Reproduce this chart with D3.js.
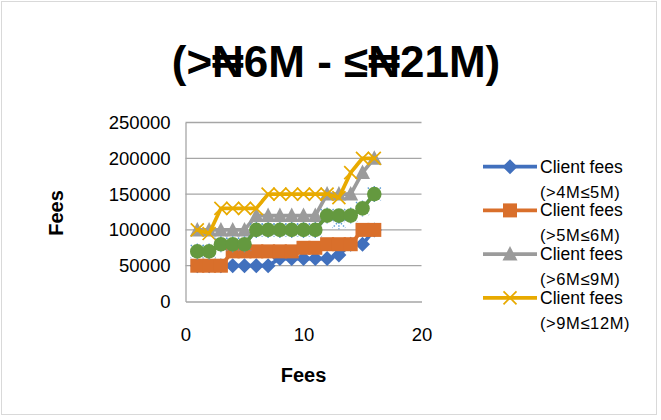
<!DOCTYPE html>
<html><head><meta charset="utf-8">
<script src="https://cdn.jsdelivr.net/npm/d3@7"></script>
<style>body{margin:0;background:#fff}svg{display:block}text{font-family:"Liberation Sans",Arial,sans-serif}</style>
</head><body><svg id="c" width="661" height="420"></svg>
<script>
const xValues = [1,2,3,4,5,6,7,8,9,10,11,12,13,14,15,16];
const seriesNames = ["Client fees (>4M≤5M)","Client fees (>5M≤6M)","Client fees (>6M≤9M)","Client fees (>9M≤12M)","Client fees (>12M≤15M)","Client fees (>15M≤21M)"];
const s1 = [50000,50000,50000,50000,50000,50000,50000,60000,60000,60000,60000,60000,65000,80000,80000,100000];
const s2 = [50000,50000,50000,70000,70000,70000,70000,70000,70000,75000,75000,80000,80000,80000,100000,100000];
const s3 = [100000,100000,100000,100000,100000,120000,120000,120000,120000,120000,120000,150000,150000,150000,180000,200000];
const s4 = [100000,95000,130000,130000,130000,130000,150000,150000,150000,150000,150000,150000,145000,180000,200000,200000];
const s5 = [70000,70000,80000,80000,80000,100000,100000,100000,100000,100000,100000,120000,112000,120000,130000,150000];
const s6 = [70000,70000,80000,80000,80000,100000,100000,100000,100000,100000,100000,120000,120000,120000,130000,150000];
const yTicks = [0,50000,100000,150000,200000,250000];
const xTicks = [0,10,20];
const legendLines = [["Client fees","(>4M≤5M)"],["Client fees","(>5M≤6M)"],["Client fees","(>6M≤9M)"],["Client fees","(>9M≤12M)"]];
const colors = ["#4170BD","#D96F2B","#9B9B9B","#E8AA00","#5B9BD5","#64993F"];
const markers = ["diamond","square","triangle","cross","star","circle"];
const allSeries = [s1,s2,s3,s4,s5,s6];

const svg = d3.select("#c");
svg.append("rect").attr("x",1.5).attr("y",1.5).attr("width",655).attr("height",413).attr("fill","#fff").attr("stroke","#d9d9d9");

const x = d3.scaleLinear().domain([0,20]).range([185.5,421.5]);
const y = d3.scaleLinear().domain([0,250000]).range([301.5,122.5]);

svg.append("g").selectAll("line").data(yTicks.slice(1)).join("line")
  .attr("x1",x(0)).attr("x2",x(20)).attr("y1",d=>y(d)).attr("y2",d=>y(d))
  .attr("stroke","#a6a6a6").attr("stroke-width",1.3);
const ya = svg.append("g").attr("transform",`translate(${x(0)},0)`).call(d3.axisLeft(y).tickValues(yTicks).tickSize(0).tickPadding(15).tickFormat(d3.format("d")));
ya.select(".domain").attr("stroke","#a6a6a6").attr("stroke-width",1.3);
ya.selectAll("text").attr("font-size",18.5).attr("fill","#000").attr("font-family","'Liberation Sans',Arial,sans-serif");
const xa = svg.append("g").attr("transform",`translate(0,${y(0)})`).call(d3.axisBottom(x).tickValues(xTicks).tickSize(0).tickPadding(26));
xa.select(".domain").attr("stroke","#a6a6a6").attr("stroke-width",1.3);
xa.selectAll("text").attr("font-size",18.5).attr("fill","#000").attr("font-family","'Liberation Sans',Arial,sans-serif");

svg.append("text").attr("x",336).attr("y",77).attr("text-anchor","middle").attr("font-size",44).attr("font-weight","bold").text("(>₦6M - ≤₦21M)");
svg.append("text").attr("x",303.5).attr("y",382).attr("text-anchor","middle").attr("font-size",20).attr("font-weight","bold").text("Fees");
svg.append("text").attr("transform","translate(63,213) rotate(-90)").attr("text-anchor","middle").attr("font-size",20).attr("font-weight","bold").text("Fees");

function drawMarker(g, type, color, cx, cy){
  if(type==="diamond") g.append("path").attr("d",`M${cx},${cy-7.5}L${cx+7.5},${cy}L${cx},${cy+7.5}L${cx-7.5},${cy}Z`).attr("fill",color);
  else if(type==="square") g.append("rect").attr("x",cx-7).attr("y",cy-7).attr("width",14).attr("height",14).attr("fill",color);
  else if(type==="triangle") g.append("path").attr("d",`M${cx},${cy-8}L${cx+7.5},${cy+6.5}L${cx-7.5},${cy+6.5}Z`).attr("fill",color);
  else if(type==="cross") g.append("path").attr("d",`M${cx-6.5},${cy-6.5}L${cx+6.5},${cy+6.5}M${cx+6.5},${cy-6.5}L${cx-6.5},${cy+6.5}`).attr("stroke",color).attr("stroke-width",1.7).attr("fill","none");
  else if(type==="star") g.append("path").attr("d",`M${cx-6.5},${cy-6.5}L${cx+6.5},${cy+6.5}M${cx+6.5},${cy-6.5}L${cx-6.5},${cy+6.5}M${cx},${cy-8}L${cx},${cy+8}`).attr("stroke",color).attr("stroke-width",1.4).attr("stroke-dasharray","1.5,1.5").attr("fill","none");
  else if(type==="circle") g.append("circle").attr("cx",cx).attr("cy",cy).attr("r",7.3).attr("fill",color);
}

const line = d3.line().x((d,i)=>x(xValues[i])).y(d=>y(d));
allSeries.forEach((s,k)=>{
  const g = svg.append("g");
  g.append("path").datum(s).attr("d",line).attr("fill","none").attr("stroke",colors[k]).attr("stroke-width",3.7).attr("stroke-linejoin","round").attr("stroke-linecap","round");
  s.forEach((v,i)=>drawMarker(g,markers[k],colors[k],x(xValues[i]),y(v)));
});

const lg = svg.append("g");
const legendY = [166.7,210.4,254.1,297.8];
legendLines.forEach((t,k)=>{
  const ly = legendY[k];
  lg.append("line").attr("x1",483).attr("x2",537).attr("y1",ly).attr("y2",ly).attr("stroke",colors[k]).attr("stroke-width",3.7);
  drawMarker(lg,markers[k],colors[k],510,ly);
  lg.append("text").attr("x",540).attr("y",ly+6).attr("font-size",17.5).text(t[0]);
  lg.append("text").attr("x",540).attr("y",ly+31).attr("font-size",16.5).attr("letter-spacing",0.6).text(t[1]);
});
</script></body></html>
